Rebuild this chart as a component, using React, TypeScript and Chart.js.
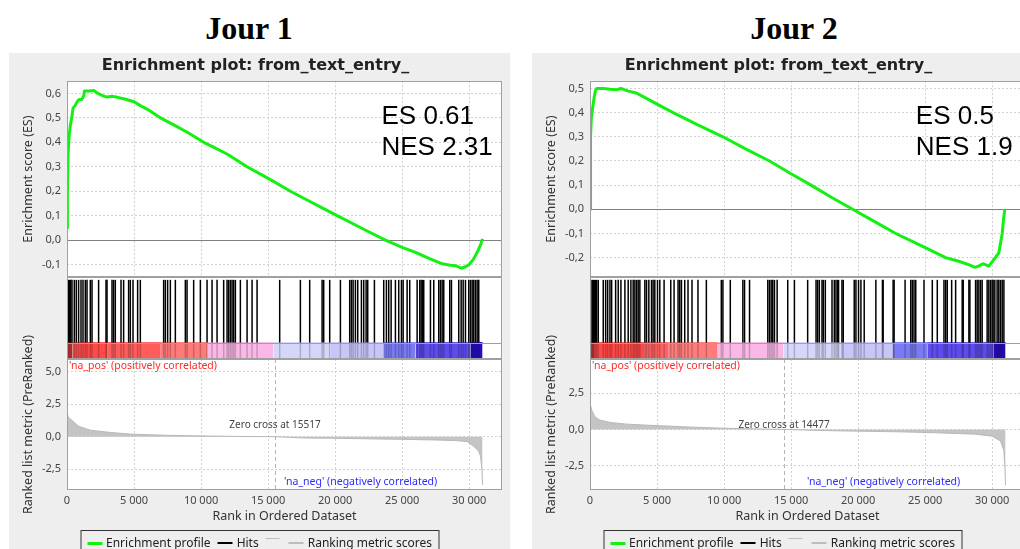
import React, { useEffect, useRef } from 'react';
import { Chart, registerables } from 'chart.js';

Chart.register(...registerables);

// ---------- shared text / scale constants ----------
const FONT = '"Noto Sans", "DejaVu Sans", sans-serif';
const TITLE_FONT = '"DejaVu Sans", "Noto Sans", sans-serif';
const PLOT_TITLE = 'Enrichment plot: from_text_entry_';
const ES_AXIS_TITLE = 'Enrichment score (ES)';
const METRIC_AXIS_TITLE = 'Ranked list metric (PreRanked)';
const X_AXIS_TITLE = 'Rank in Ordered Dataset';
const POS_LABEL = "'na_pos' (positively correlated)";
const NEG_LABEL = "'na_neg' (negatively correlated)";
const LEGEND_LABELS = ['Enrichment profile', 'Hits', 'Ranking metric scores'];
const X_MAX = 32450;
const X_TICKS = [0, 5000, 10000, 15000, 20000, 25000, 30000];

// ---------- Jour 1 ----------
const J1_HEADING = 'Jour 1';
const J1_ES_TEXT = 'ES 0.61';
const J1_NES_TEXT = 'NES 2.31';
const J1_ZERO_CROSS = 15517;
const J1_ES_RANGE = [-0.151, 0.65];
const J1_ES_TICKS = [-0.1, 0, 0.1, 0.2, 0.3, 0.4, 0.5, 0.6];
const J1_METRIC_RANGE = [-4.1, 5.98];
const J1_METRIC_TICKS = [-2.5, 0, 2.5, 5];
const J1_ES_RANKS = [0, 30, 80, 150, 250, 350, 450, 600, 750, 900, 1100, 1250, 1300, 1700, 2000, 2300, 2700, 3000, 3400, 3700, 4300, 5000, 5470, 6000, 6965, 8000, 9000, 10200, 11000, 12000, 13430, 14500, 15500, 16667, 17800, 19000, 20150, 21300, 22500, 23755, 25000, 26000, 27000, 28000, 28600, 29000, 29400, 29700, 30000, 30300, 30600, 30850, 31000];
const J1_ES_VALUES = [0.05, 0.2, 0.35, 0.42, 0.47, 0.5, 0.54, 0.55, 0.565, 0.575, 0.575, 0.59, 0.61, 0.61, 0.612, 0.6, 0.59, 0.585, 0.588, 0.585, 0.577, 0.566, 0.55, 0.535, 0.5, 0.47, 0.44, 0.4, 0.378, 0.35, 0.3, 0.268, 0.237, 0.2, 0.167, 0.133, 0.1, 0.068, 0.034, 0.0, -0.03, -0.05, -0.075, -0.097, -0.103, -0.105, -0.115, -0.11, -0.1, -0.08, -0.05, -0.02, 0.005];
const J1_HITS = [45, 120, 194, 280, 373, 545, 694, 866, 1045, 1194, 1366, 1493, 1739, 1866, 2358, 2910, 2985, 3358, 3478, 3604, 4030, 4224, 4597, 4724, 4925, 5269, 5470, 7209, 7336, 7507, 7709, 8082, 8828, 8955, 9448, 9948, 10448, 10821, 11194, 11687, 11940, 12060, 12187, 12313, 12433, 12560, 12933, 13433, 13806, 14179, 15866, 17410, 18104, 19030, 19149, 19597, 20396, 21090, 21216, 21343, 21515, 21687, 21963, 22134, 22313, 22433, 22933, 23627, 23828, 24000, 24179, 24500, 24746, 24948, 25075, 25373, 25567, 26119, 26313, 26418, 26515, 26612, 27112, 27358, 27731, 27858, 27985, 28104, 28552, 28679, 29224, 29403, 29552, 29724, 29970, 30097, 30224, 30343, 30470, 30597, 30716];
const J1_METRIC_RANKS = [0, 100, 380, 870, 1740, 3230, 4720, 7700, 10700, 12430, 15517, 16500, 17800, 20000, 22900, 25000, 27400, 29000, 29850, 30350, 30700, 30850, 30950, 31000];
const J1_METRIC_VALUES = [1.85, 1.5, 1.25, 0.8, 0.5, 0.33, 0.2, 0.1, 0.05, 0.025, 0, -0.04, -0.1, -0.12, -0.17, -0.2, -0.25, -0.3, -0.37, -0.75, -1.1, -1.5, -2.5, -3.7];
const J1_BAR_BOUNDS = [0, 400, 3000, 7000, 10448, 15400, 19650, 23620, 26000, 30100, 31000];
const J1_BAR_COLORS = ['#d83c3c', '#ff4a4a', '#ff5c5c', '#ff7a7a', '#fab8e6', '#d6d6fb', '#c8c6f8', '#7a7af4', '#5d4cec', '#2a0bc4'];

// ---------- Jour 2 ----------
const J2_HEADING = 'Jour 2';
const J2_ES_TEXT = 'ES 0.5';
const J2_NES_TEXT = 'NES 1.9';
const J2_ZERO_CROSS = 14477;
const J2_ES_RANGE = [-0.28, 0.53];
const J2_ES_TICKS = [-0.2, -0.1, 0, 0.1, 0.2, 0.3, 0.4, 0.5];
const J2_METRIC_RANGE = [-4.17, 4.86];
const J2_METRIC_TICKS = [-2.5, 0, 2.5];
const J2_ES_RANKS = [0, 20, 60, 100, 200, 300, 400, 500, 1000, 1500, 2000, 2300, 2800, 3500, 4000, 5000, 6200, 8000, 9917, 11600, 13390, 14900, 16490, 18000, 19590, 21200, 22810, 24700, 26530, 27500, 28300, 28700, 29000, 29300, 29750, 30100, 30500, 30750, 30850, 30950];
const J2_ES_VALUES = [0.0, 0.15, 0.3, 0.38, 0.42, 0.46, 0.49, 0.5, 0.5, 0.497, 0.495, 0.5, 0.49, 0.48, 0.465, 0.435, 0.4, 0.35, 0.3, 0.25, 0.2, 0.15, 0.1, 0.05, 0.0, -0.05, -0.1, -0.15, -0.2, -0.215, -0.23, -0.24, -0.235, -0.225, -0.235, -0.21, -0.18, -0.1, -0.04, 0.0];
const J2_HITS = [60, 171, 250, 320, 410, 498, 617, 989, 1168, 1317, 1488, 1614, 1912, 2105, 2306, 2603, 2849, 3050, 3221, 3347, 3474, 3593, 3719, 4091, 4217, 4389, 4589, 4708, 4835, 5035, 5207, 5527, 6025, 6271, 6568, 6694, 6821, 7066, 7312, 7609, 8055, 8680, 9796, 9915, 10465, 11403, 11529, 11901, 13262, 13388, 13515, 13634, 13760, 13961, 14750, 15248, 16237, 16862, 16981, 17107, 17307, 17406, 17554, 18053, 18224, 18350, 18469, 18543, 18796, 18893, 19711, 19838, 20031, 20209, 20455, 21325, 21816, 21868, 22612, 22686, 23504, 23928, 24047, 24173, 24300, 24917, 25535, 25907, 26405, 26532, 26651, 26978, 27275, 27766, 27841, 28265, 28339, 28763, 28882, 29008, 29135, 29254, 29626, 29752, 29879, 29998, 30072, 30200, 30370, 30496, 30622, 30749, 30875];
const J2_METRIC_RANKS = [0, 125, 370, 740, 1490, 2730, 4710, 7690, 9920, 14477, 18350, 23060, 25910, 28760, 30000, 30620, 30870, 30950, 31000];
const J2_METRIC_VALUES = [1.85, 1.34, 0.88, 0.65, 0.49, 0.37, 0.28, 0.16, 0.09, 0, -0.09, -0.16, -0.23, -0.32, -0.46, -0.79, -1.43, -2.6, -3.85];
const J2_BAR_BOUNDS = [0, 300, 4091, 5823, 9530, 14440, 18800, 22560, 25160, 30120, 31000];
const J2_BAR_COLORS = ['#d83c3c', '#ff4848', '#ff6262', '#ff7c7c', '#fab8e6', '#d6d6fb', '#c8c6f8', '#7a7af4', '#5d4cec', '#2a0bc4'];

// ---------- styles ----------
const GREEN = '#14f014';
const GRID = '#d2d2d2';
const FRAME = '#a0a0a0';
const PANEL_BG = '#eeeeee';
const TICK_COLOR = '#444444';
const TITLE_COLOR = '#333333';
const METRIC_FILL = '#c4c4c4';
const LEGEND_COLORS = [GREEN, '#000000', '#bdbdbd'];
const AXIS_W = 58;
const PAD_R = 8;
const PANEL_TOP = 53;
const PANEL_W = 501;
const BAR_TOP = 0.2;
const HIT_TOP = 0.965;
const HIT_WIDTH = 1.5;
const BOT_CANVAS_TOP = 326;
const PLOT_BOTTOM_TOP = 359;

const PANELS = [
  { heading: J1_HEADING, x: 9, headingX: 249, es: J1_ES_TEXT, nes: J1_NES_TEXT, esFrac: 0.723, zeroCross: J1_ZERO_CROSS, esRange: J1_ES_RANGE, esTicks: J1_ES_TICKS, metricRange: J1_METRIC_RANGE, metricTicks: J1_METRIC_TICKS, esRanks: J1_ES_RANKS, esValues: J1_ES_VALUES, hits: J1_HITS, metricRanks: J1_METRIC_RANKS, metricValues: J1_METRIC_VALUES, barBounds: J1_BAR_BOUNDS, barColors: J1_BAR_COLORS },
  { heading: J2_HEADING, x: 532, headingX: 794, es: J2_ES_TEXT, nes: J2_NES_TEXT, esFrac: 0.749, zeroCross: J2_ZERO_CROSS, esRange: J2_ES_RANGE, esTicks: J2_ES_TICKS, metricRange: J2_METRIC_RANGE, metricTicks: J2_METRIC_TICKS, esRanks: J2_ES_RANKS, esValues: J2_ES_VALUES, hits: J2_HITS, metricRanks: J2_METRIC_RANKS, metricValues: J2_METRIC_VALUES, barBounds: J2_BAR_BOUNDS, barColors: J2_BAR_COLORS },
];

const fmtDec = (v: number) => Number(v).toFixed(1).replace('.', ',');
const fmtRank = (v: number) => String(Math.round(v)).replace(/\B(?=(\d{3})+(?!\d))/g, ' ');
const isZero = (v: any) => typeof v === 'number' && Math.abs(v) < 1e-9;
const fixedTicks = (values: number[]) => (s: any) => { s.ticks = values.map((value) => ({ value })); };

// ---------- plugins ----------
const framePlugin = {
  id: 'frame',
  beforeDraw(chart: any) {
    const { ctx, chartArea: a } = chart;
    ctx.save();
    ctx.fillStyle = '#ffffff';
    ctx.fillRect(a.left, a.top, a.right - a.left, a.bottom - a.top);
    ctx.restore();
  },
  afterDraw(chart: any, _args: any, opts: any) {
    const { ctx, chartArea: a } = chart;
    const L = Math.round(a.left) + 0.5;
    const R = Math.round(a.right) - 0.5;
    const T = Math.round(a.top) + 0.5;
    const B = Math.round(a.bottom) - 0.5;
    ctx.save();
    ctx.strokeStyle = FRAME;
    ctx.lineWidth = 1;
    ctx.strokeRect(L, T, R - L, B - T);
    const seps = (opts && opts.separators) || [];
    for (const v of seps) {
      const y = Math.round(chart.scales.y.getPixelForValue(v)) + 0.5;
      ctx.beginPath();
      ctx.moveTo(L, y);
      ctx.lineTo(R, y);
      ctx.stroke();
    }
    ctx.restore();
  },
};

const esTextPlugin = {
  id: 'esText',
  afterDatasetsDraw(chart: any, _args: any, opts: any) {
    const { ctx, chartArea: a } = chart;
    const x = a.left + opts.frac * (a.right - a.left);
    ctx.save();
    ctx.font = '26px "Liberation Sans", Arial, sans-serif';
    ctx.fillStyle = '#000000';
    ctx.textAlign = 'left';
    ctx.textBaseline = 'alphabetic';
    ctx.fillText(opts.es, x, a.top + 42.5);
    ctx.fillText(opts.nes, x, a.top + 73.3);
    ctx.restore();
  },
};

const metricNotesPlugin = {
  id: 'metricNotes',
  afterDatasetsDraw(chart: any, _args: any, opts: any) {
    const { ctx, chartArea: a, scales } = chart;
    const x = scales.x.getPixelForValue(opts.zeroCross);
    const xs = Math.round(x) + 0.5;
    ctx.save();
    ctx.strokeStyle = '#b4b4b4';
    ctx.lineWidth = 1;
    ctx.setLineDash([4, 3]);
    ctx.beginPath();
    ctx.moveTo(xs, a.top);
    ctx.lineTo(xs, a.bottom);
    ctx.stroke();
    ctx.setLineDash([]);
    ctx.font = `10px ${FONT}`;
    ctx.fillStyle = '#444444';
    ctx.textAlign = 'center';
    ctx.textBaseline = 'middle';
    ctx.fillText(`Zero cross at ${opts.zeroCross}`, x, (a.top + a.bottom) / 2 + 1);
    ctx.font = `10.5px ${FONT}`;
    ctx.fillStyle = '#ff2a2a';
    ctx.textAlign = 'left';
    ctx.textBaseline = 'top';
    ctx.fillText(POS_LABEL, a.left + 2, a.top + 2);
    ctx.fillStyle = '#2a2aff';
    ctx.textAlign = 'center';
    ctx.textBaseline = 'middle';
    ctx.fillText(NEG_LABEL, a.left + 0.675 * (a.right - a.left), a.bottom - 8);
    ctx.restore();
  },
};

const tickFont = { family: FONT, size: 11 };
const titleFont = { family: FONT, size: 12.5 };

function topConfig(p: any) {
  return {
    type: 'line',
    data: {
      datasets: [{
        data: p.esRanks.map((x: number, i: number) => ({ x, y: p.esValues[i] })),
        borderColor: GREEN, borderWidth: 3, pointRadius: 0, tension: 0, fill: false,
        borderJoinStyle: 'round',
      }],
    },
    options: {
      responsive: false, animation: false, events: [],
      layout: { padding: { left: 0, right: PAD_R, top: 0, bottom: 0 } },
      plugins: {
        legend: { display: false }, tooltip: { enabled: false },
        title: { display: true, text: PLOT_TITLE, color: '#222222', font: { family: TITLE_FONT, size: 16, weight: 'bold' }, padding: { top: 3, bottom: 6 } },
        esText: { frac: p.esFrac, es: p.es, nes: p.nes },
      },
      scales: {
        x: {
          type: 'linear', min: 0, max: X_MAX,
          afterBuildTicks: fixedTicks(X_TICKS),
          ticks: { display: false },
          grid: { color: GRID, drawTicks: false },
          border: { display: false, dash: [2, 2] },
          afterFit: (s: any) => { s.height = 0; s.paddingLeft = 0; s.paddingRight = 0; },
        },
        y: {
          type: 'linear', min: p.esRange[0], max: p.esRange[1],
          afterBuildTicks: fixedTicks(p.esTicks),
          ticks: { callback: (v: number) => fmtDec(v), font: tickFont, color: TICK_COLOR, padding: 6 },
          grid: { color: (c: any) => (c.tick && isZero(c.tick.value) ? '#808080' : GRID), drawTicks: false },
          border: { display: false, dash: (c: any) => (c.tick && isZero(c.tick.value) ? [] : [2, 2]) },
          title: { display: true, text: ES_AXIS_TITLE, font: titleFont, color: TITLE_COLOR, padding: { top: 12, bottom: 0 } },
          afterFit: (s: any) => { s.width = AXIS_W; s.paddingTop = 0; s.paddingBottom = 0; },
        },
      },
    },
    plugins: [framePlugin, esTextPlugin],
  };
}

function midConfig(p: any) {
  const hitBars = p.hits.map((r: number) => ({ x: r, y: [BAR_TOP, HIT_TOP] }));
  const hitShade = p.hits.map((r: number) => ({ x: r, y: [0, BAR_TOP] }));
  const segments = p.barColors.map((c: string, i: number) => ({
    type: 'line',
    data: [{ x: p.barBounds[i], y: BAR_TOP }, { x: p.barBounds[i + 1], y: BAR_TOP }],
    borderColor: c, backgroundColor: c, borderWidth: 1, pointRadius: 0, fill: 'origin', tension: 0,
  }));
  return {
    type: 'bar',
    data: {
      datasets: [
        { type: 'bar', data: hitBars, backgroundColor: '#000000', barThickness: HIT_WIDTH, inflateAmount: 0, grouped: false },
        { type: 'bar', data: hitShade, backgroundColor: 'rgba(0,0,0,0.2)', barThickness: HIT_WIDTH, inflateAmount: 0, grouped: false },
        ...segments,
      ],
    },
    options: {
      responsive: false, animation: false, events: [],
      layout: { padding: { left: AXIS_W, right: PAD_R, top: 0, bottom: 0 } },
      plugins: { legend: { display: false }, tooltip: { enabled: false }, frame: { separators: [BAR_TOP] } },
      scales: {
        x: { type: 'linear', min: 0, max: X_MAX, display: false, offset: false },
        y: { type: 'linear', min: 0, max: 1, display: false },
      },
    },
    plugins: [framePlugin],
  };
}

function botConfig(p: any) {
  return {
    type: 'line',
    data: {
      datasets: [{
        data: p.metricRanks.map((x: number, i: number) => ({ x, y: p.metricValues[i] })),
        borderColor: '#b8b8b8', backgroundColor: METRIC_FILL, borderWidth: 1, pointRadius: 0, fill: 'origin', tension: 0,
      }],
    },
    options: {
      responsive: false, animation: false, events: [],
      layout: { padding: { left: 0, right: PAD_R, top: PLOT_BOTTOM_TOP - BOT_CANVAS_TOP, bottom: 0 } },
      plugins: { legend: { display: false }, tooltip: { enabled: false }, metricNotes: { zeroCross: p.zeroCross } },
      scales: {
        x: {
          type: 'linear', min: 0, max: X_MAX,
          afterBuildTicks: fixedTicks(X_TICKS),
          ticks: { callback: (v: number) => fmtRank(v), font: tickFont, color: TICK_COLOR, padding: 4, maxRotation: 0, autoSkip: false },
          grid: { color: GRID, drawTicks: false },
          border: { display: false, dash: [2, 2] },
          title: { display: true, text: X_AXIS_TITLE, font: titleFont, color: TITLE_COLOR, padding: { top: 0, bottom: 2 } },
          afterFit: (s: any) => { s.height = 36; s.paddingLeft = 0; s.paddingRight = 0; },
        },
        y: {
          type: 'linear', min: p.metricRange[0], max: p.metricRange[1],
          afterBuildTicks: fixedTicks(p.metricTicks),
          ticks: { callback: (v: number) => fmtDec(v), font: tickFont, color: TICK_COLOR, padding: 6 },
          grid: { color: GRID, drawTicks: false },
          border: { display: false, dash: [2, 2] },
          title: { display: true, text: METRIC_AXIS_TITLE, font: titleFont, color: TITLE_COLOR, padding: { top: 12, bottom: 0 } },
          afterFit: (s: any) => { s.width = AXIS_W; s.paddingTop = 0; s.paddingBottom = 0; },
        },
      },
    },
    plugins: [framePlugin, metricNotesPlugin],
  };
}

function ChartCanvas({ left, top, width, height, make }: any) {
  const ref = useRef<HTMLCanvasElement>(null);
  useEffect(() => {
    const chart = new Chart(ref.current as HTMLCanvasElement, make());
    return () => chart.destroy();
  }, []);
  return (
    <canvas ref={ref} width={width} height={height}
      style={{ position: 'absolute', left, top, width, height, display: 'block' }} />
  );
}

function Legend({ center }: any) {
  return (
    <div style={{
      position: 'absolute', left: center, top: 530, transform: 'translateX(-50%)',
      border: '1px solid #333', padding: '4px 6px 12px 6px', display: 'flex', alignItems: 'center',
      whiteSpace: 'nowrap', fontFamily: FONT, fontSize: 12, lineHeight: '16px', color: '#222',
    }}>
      {LEGEND_LABELS.map((label, i) => (
        <span key={label} style={{ display: 'flex', alignItems: 'center', marginLeft: i === 0 ? 0 : 7 }}>
          {i === 2 && (
            <span style={{ display: 'inline-block', width: 14, height: 1, background: LEGEND_COLORS[i], marginRight: 9, position: 'relative', top: -5 }} />
          )}
          <span style={{ display: 'inline-block', width: 15, height: i === 0 ? 3 : 2, background: LEGEND_COLORS[i], marginRight: 4 }} />
          {label}
        </span>
      ))}
    </div>
  );
}

function PanelView({ p }: any) {
  return (
    <>
      <div style={{ position: 'absolute', left: p.x, top: PANEL_TOP, width: PANEL_W, height: 549 - PANEL_TOP, background: PANEL_BG }} />
      <div style={{
        position: 'absolute', left: p.headingX - 100, width: 200, top: 12, textAlign: 'center',
        fontFamily: '"Liberation Serif", "Times New Roman", serif', fontWeight: 'bold', fontSize: 32, lineHeight: '32px', color: '#000',
      }}>{p.heading}</div>
      <ChartCanvas left={p.x} top={PANEL_TOP} width={PANEL_W} height={224} make={() => topConfig(p)} />
      <ChartCanvas left={p.x} top={277} width={PANEL_W} height={82} make={() => midConfig(p)} />
      <ChartCanvas left={p.x} top={BOT_CANVAS_TOP} width={PANEL_W} height={526 - BOT_CANVAS_TOP} make={() => botConfig(p)} />
      <Legend center={p.x + PANEL_W / 2} />
    </>
  );
}

export default function App() {
  return (
    <div style={{ position: 'fixed', left: 0, top: 0, width: 1020, height: 549, overflow: 'hidden', background: '#ffffff' }}>
      {PANELS.map((p) => <PanelView key={p.heading} p={p} />)}
    </div>
  );
}
